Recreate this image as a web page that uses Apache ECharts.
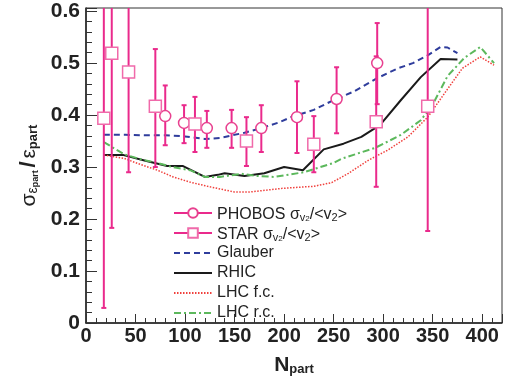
<!DOCTYPE html>
<html>
<head>
<meta charset="utf-8">
<script src="https://cdn.jsdelivr.net/npm/echarts@6/dist/echarts.min.js"></script>
<style>
  html, body { margin: 0; padding: 0; background: #fff; }
  #chart { width: 510px; height: 381px; }
</style>
</head>
<body>
<div id="chart"></div>
<script>
// PHOBOS: [Npart, value, errLow, errHigh]
const phobos = [
  [80, 0.398, 0.342, 0.457],
  [99, 0.385, 0.346, 0.419],
  [122, 0.375, 0.337, 0.408],
  [147, 0.375, 0.337, 0.41],
  [177, 0.375, 0.329, 0.419],
  [213, 0.396, 0.327, 0.465],
  [253, 0.431, 0.365, 0.492],
  [294, 0.5, 0.421, 0.577],
];

// STAR: [Npart, value, errLow, errHigh]
const star = [
  [18, 0.394, 0.029, 0.7],
  [26, 0.519, 0.183, 0.7],
  [43, 0.483, 0.29, 0.7],
  [70, 0.417, 0.3, 0.527],
  [110, 0.383, 0.329, 0.435],
  [162, 0.35, 0.302, 0.396],
  [230, 0.344, 0.29, 0.398],
  [293, 0.387, 0.262, 0.513],
  [345, 0.417, 0.177, 0.7],
];

const glauber = [
  [18, 0.362], [40, 0.362], [60, 0.361], [80, 0.361], [100, 0.359], [120, 0.354],
  [135, 0.356], [145, 0.36], [160, 0.366], [177, 0.375], [195, 0.386], [207, 0.396],
  [230, 0.41], [248, 0.427], [270, 0.445], [294, 0.471], [315, 0.49], [330, 0.5],
  [345, 0.515], [358, 0.531], [365, 0.53], [375, 0.519],
];

const rhic = [
  [18, 0.323], [38, 0.323], [60, 0.312], [82, 0.302], [98, 0.302], [120, 0.281],
  [133, 0.285], [140, 0.288], [160, 0.283], [180, 0.288], [200, 0.3], [219, 0.294],
  [240, 0.334], [260, 0.345], [278, 0.358], [297, 0.381], [318, 0.429], [338, 0.473],
  [358, 0.508], [375, 0.507],
];

const lhcFc = [
  [18, 0.323], [38, 0.317], [55, 0.305], [72, 0.294], [88, 0.281], [105, 0.271],
  [125, 0.262], [150, 0.252], [165, 0.252], [198, 0.259], [230, 0.263], [248, 0.27],
  [265, 0.288], [285, 0.313], [305, 0.333], [325, 0.358], [345, 0.396], [365, 0.45],
  [380, 0.49], [398, 0.512], [412, 0.496],
];

const lhcRc = [
  [18, 0.348], [38, 0.325], [55, 0.315], [72, 0.308], [87, 0.3], [105, 0.294],
  [120, 0.281], [135, 0.281], [157, 0.287], [172, 0.283], [190, 0.281], [220, 0.29],
  [250, 0.308], [258, 0.316], [292, 0.337], [318, 0.362], [338, 0.39], [350, 0.42],
  [365, 0.475], [382, 0.51], [398, 0.531], [412, 0.5],
];

const X_MAX = 420;
const Y_MAX = 0.606;
const FONT = "Liberation Sans, Arial, Helvetica, sans-serif";
const PINK = "#ea2a8c";
const PINK_LIGHT = "#f06aaa";

const errorBars = (color) => (params, api) => {
  const x = api.value(0);
  const lo = api.value(2);
  const hi = api.value(3);
  const top = api.coord([x, Math.min(hi, Y_MAX)]);
  const bot = api.coord([x, Math.max(lo, 0)]);
  const style = { stroke: color, lineWidth: 2 };
  const children = [
    { type: "line", shape: { x1: top[0], y1: top[1], x2: bot[0], y2: bot[1] }, style },
  ];
  if (hi <= Y_MAX) {
    children.push({ type: "line", shape: { x1: top[0] - 2.5, y1: top[1], x2: top[0] + 2.5, y2: top[1] }, style });
  }
  if (lo >= 0) {
    children.push({ type: "line", shape: { x1: bot[0] - 2.5, y1: bot[1], x2: bot[0] + 2.5, y2: bot[1] }, style });
  }
  return { type: "group", children };
};

const legendRich = {
  m: { fontSize: 16, lineHeight: 20, verticalAlign: "bottom", fontFamily: FONT, color: "#222" },
  s: { fontSize: 11, lineHeight: 10, verticalAlign: "bottom", fontFamily: FONT, color: "#222" },
  ss: { fontSize: 8, lineHeight: 4, verticalAlign: "bottom", fontFamily: FONT, color: "#222" },
  sub: { fontSize: 11, lineHeight: 12, verticalAlign: "bottom", fontFamily: FONT, color: "#222" },
};

const legendLabels = {
  PHOBOS: "{m|PHOBOS σ}{s|v}{ss|2}{m|/<v}{sub|2}{m|>}",
  STAR: "{m|STAR σ}{s|v}{ss|2}{m|/<v}{sub|2}{m|>}",
};

const noMarker = { itemStyle: { opacity: 0 } };

const chart = echarts.init(document.getElementById("chart"), null, { renderer: "canvas" });

const option = {
  animation: false,
  backgroundColor: "#fff",
  textStyle: { fontFamily: FONT },
  grid: {
    left: 86, right: 8, top: 8, bottom: 58,
    show: true, borderColor: "#333", borderWidth: 1, backgroundColor: "transparent",
  },
  legend: {
    orient: "vertical",
    left: 168,
    top: 198,
    itemWidth: 38,
    itemHeight: 12,
    itemGap: 0,
    textStyle: { fontSize: 16, lineHeight: 20, color: "#222", fontFamily: FONT, rich: legendRich },
    formatter: (name) => legendLabels[name] || name,
    data: [
      { name: "PHOBOS", lineStyle: { opacity: 1, width: 2, color: PINK } },
      { name: "STAR", lineStyle: { opacity: 1, width: 2, color: PINK } },
      { name: "Glauber", ...noMarker },
      { name: "RHIC", ...noMarker },
      { name: "LHC f.c.", ...noMarker },
      { name: "LHC r.c.", ...noMarker },
    ],
  },
  xAxis: {
    type: "value",
    min: 0,
    max: X_MAX,
    interval: 50,
    name: "{N|N}{p|part}",
    nameLocation: "middle",
    nameGap: 23,
    nameTextStyle: {
      rich: {
        N: { fontSize: 21, fontWeight: "bold", lineHeight: 30, verticalAlign: "bottom", color: "#222", fontFamily: FONT },
        p: { fontSize: 13, fontWeight: "bold", lineHeight: 13, verticalAlign: "bottom", color: "#222", fontFamily: FONT },
      },
    },
    axisLine: { show: true, lineStyle: { color: "#222", width: 1.5 } },
    axisTick: { show: true, inside: true, length: 9, lineStyle: { color: "#333", width: 1 } },
    minorTick: { show: true, splitNumber: 5, length: 5, lineStyle: { color: "#333", width: 1 } },
    axisLabel: { margin: 3, fontSize: 20, fontWeight: "bold", color: "#222", fontFamily: FONT, showMaxLabel: false },
    splitLine: { show: false },
  },
  yAxis: {
    type: "value",
    min: 0,
    max: Y_MAX,
    interval: 0.1,
    name: "{s|σ}{e|ε}{p|part}{m| }{sl|/}{m| }{E|ε}{P|part}",
    nameLocation: "middle",
    nameRotate: 90,
    nameGap: 37,
    nameTextStyle: {
      rich: {
        s: { fontSize: 21, lineHeight: 40, verticalAlign: "bottom", color: "#222", fontFamily: FONT },
        e: { fontSize: 14, lineHeight: 26, verticalAlign: "bottom", color: "#222", fontFamily: FONT },
        p: { fontSize: 9, fontWeight: "bold", lineHeight: 16, verticalAlign: "bottom", color: "#222", fontFamily: FONT },
        m: { fontSize: 10, lineHeight: 40, verticalAlign: "bottom", fontFamily: FONT },
        sl: { fontSize: 22, fontWeight: "bold", lineHeight: 44, verticalAlign: "bottom", color: "#222", fontFamily: FONT },
        E: { fontSize: 21, lineHeight: 40, verticalAlign: "bottom", color: "#222", fontFamily: FONT },
        P: { fontSize: 13, fontWeight: "bold", lineHeight: 26, verticalAlign: "bottom", color: "#222", fontFamily: FONT },
      },
    },
    axisLine: { show: true, lineStyle: { color: "#222", width: 1.5 } },
    axisTick: { show: true, inside: true, length: 11, lineStyle: { color: "#333", width: 1 } },
    minorTick: { show: true, splitNumber: 5, length: 6, lineStyle: { color: "#333", width: 1 } },
    axisLabel: { margin: 6, fontSize: 21, fontWeight: "bold", color: "#222", fontFamily: FONT },
    splitLine: { show: false },
  },
  series: [
    {
      name: "Glauber", type: "line", data: glauber, symbol: "none", z: 3,
      lineStyle: { color: "#2f3d9c", width: 2, type: [6, 4] }, itemStyle: { color: "#2f3d9c" },
    },
    {
      name: "RHIC", type: "line", data: rhic, symbol: "none", z: 3,
      lineStyle: { color: "#1a1a1a", width: 2 }, itemStyle: { color: "#1a1a1a" },
    },
    {
      name: "LHC f.c.", type: "line", data: lhcFc, symbol: "none", z: 3,
      lineStyle: { color: "#f0403c", width: 1.5, type: [1.5, 1.5] }, itemStyle: { color: "#f0403c" },
    },
    {
      name: "LHC r.c.", type: "line", data: lhcRc, symbol: "none", z: 3,
      lineStyle: { color: "#5cb85c", width: 2, type: [7, 3, 2, 3] }, itemStyle: { color: "#5cb85c" },
    },
    {
      name: "PHOBOS err", type: "custom", data: phobos, renderItem: errorBars(PINK), z: 4, clip: true,
    },
    {
      name: "STAR err", type: "custom", data: star, renderItem: errorBars(PINK), z: 4, clip: true,
    },
    {
      name: "PHOBOS", type: "line", data: phobos.map((d) => [d[0], d[1]]), z: 5,
      symbol: "circle", symbolSize: 11, showAllSymbol: true,
      lineStyle: { opacity: 0, color: PINK, width: 2 },
      itemStyle: { color: "#fff", borderColor: "#e8408f", borderWidth: 1.5 },
    },
    {
      name: "STAR", type: "line", data: star.map((d) => [d[0], d[1]]), z: 5,
      symbol: "rect", symbolSize: 12, showAllSymbol: true,
      lineStyle: { opacity: 0, color: PINK, width: 2 },
      itemStyle: { color: "#fff", borderColor: PINK_LIGHT, borderWidth: 1.5 },
    },
  ],
};

chart.setOption(option);
</script>
</body>
</html>
